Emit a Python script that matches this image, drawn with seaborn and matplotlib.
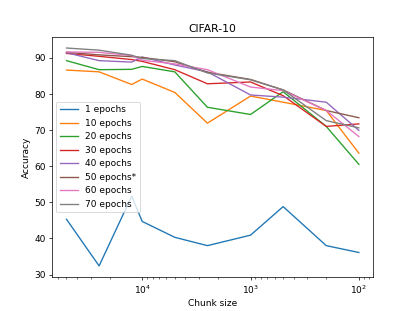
"""CIFAR-10: チャンクサイズごとの精度"""

import matplotlib
matplotlib.use("Agg")
import matplotlib.pyplot as plt
import seaborn as sns

chunk_sizes = [50000, 25000, 12500, 10000, 5000, 2500, 1000, 500, 200, 100]

acc_1 = [45.3, 32.4, 51.7, 44.7, 40.3, 38.0, 40.9, 48.8, 38.0, 36.1]
acc_10 = [86.6, 86.1, 82.6, 84.1, 80.4, 71.9, 79.4, 77.7, 75.4, 63.6]
acc_20 = [89.2, 86.7, 86.8, 87.6, 86.1, 76.3, 74.3, 80.6, 71.0, 60.5]
acc_30 = [91.2, 90.4, 89.5, 89.0, 86.7, 82.8, 83.3, 79.5, 71.0, 71.7]
acc_40 = [91.4, 89.2, 88.8, 90.2, 88.0, 86.1, 79.7, 79.1, 77.7, 69.9]
acc_50 = [91.5, 90.8, 90.3, 90.1, 88.9, 86.0, 84.0, 81.1, 75.4, 73.4]
acc_60 = [91.6, 91.5, 90.6, 89.3, 88.3, 86.7, 81.9, 80.9, 75.4, 68.2]
acc_70 = [92.7, 92.1, 90.7, 89.8, 89.2, 85.8, 83.9, 81.1, 72.6, 70.6]

labels = ["1 epochs", "10 epochs", "20 epochs", "30 epochs",
          "40 epochs", "50 epochs*", "60 epochs", "70 epochs"]
series = [acc_1, acc_10, acc_20, acc_30, acc_40, acc_50, acc_60, acc_70]

fig, ax = plt.subplots(figsize=(6.4, 4.8))
for label, values in zip(labels, series):
    sns.lineplot(x=chunk_sizes, y=values, label=label, ax=ax)

ax.set_xscale("log")
ax.invert_xaxis()
ax.set_title("CIFAR-10")
ax.set_xlabel("Chunk size")
ax.set_ylabel("Accuracy")
ax.legend(loc="center left")

fig.savefig("out.png", dpi=64.84)
